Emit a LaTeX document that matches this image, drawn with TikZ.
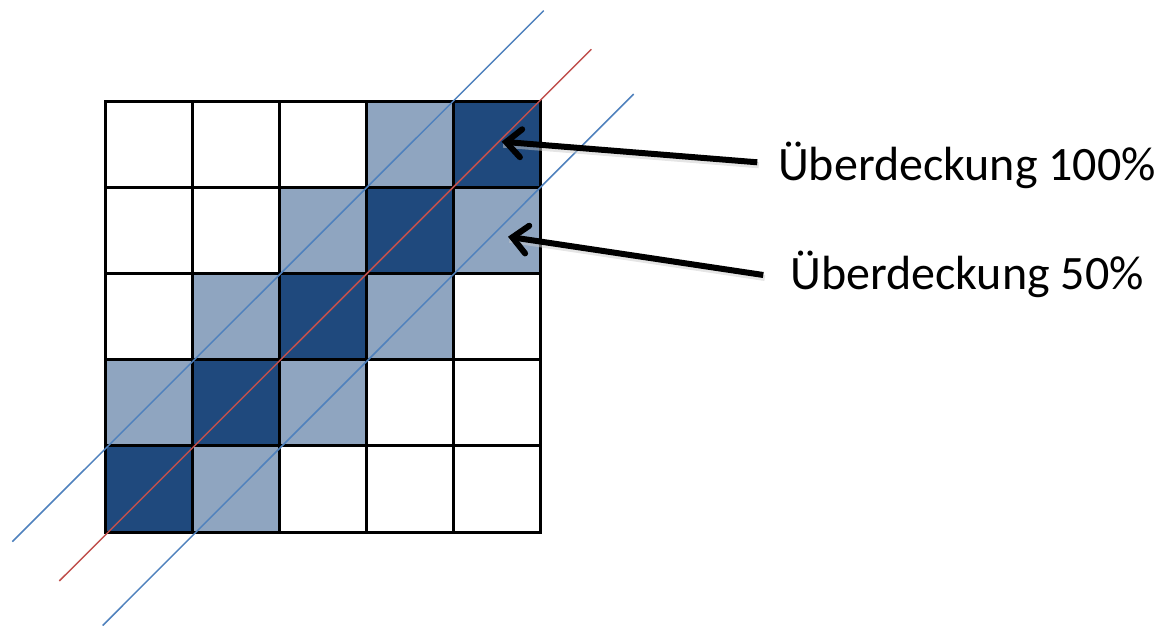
\documentclass[tikz,border=0pt]{standalone}
\usepackage{fontspec}
\setmainfont{Carlito}
\usetikzlibrary{arrows.meta}
\definecolor{darkcell}{RGB}{31,73,125}
\definecolor{lightcell}{RGB}{143,165,192}
\definecolor{blueline}{RGB}{79,129,189}
\definecolor{redline}{RGB}{192,80,77}
\tikzset{
  gridline/.style={line width=3pt, black},
  bline/.style={line width=1.5pt, blueline},
  rline/.style={line width=1.5pt, redline},
  pointer/.style={line width=6pt, black, -{Straight Barb[length=15pt,width=28pt,line cap=round]}},
  pshadow/.style={line width=6pt, black!20, opacity=0.5},
  label/.style={font=\fontsize{48}{52}\selectfont, anchor=base, inner sep=0pt}
}
\begin{document}
\begin{tikzpicture}[x=1pt,y=-1pt]
\useasboundingbox (0,0) rectangle (1159,626);
% cell fills (col index c, row index r from top)
\def\cx#1{\ifcase#1 105\or 192\or 279\or 366\or 453\or 540\fi}
\def\ry#1{\ifcase#1 101\or 187.2\or 273.4\or 359.6\or 445.8\or 532\fi}
\foreach \c/\r/\col in {4/0/darkcell,3/1/darkcell,2/2/darkcell,1/3/darkcell,0/4/darkcell,
  3/0/lightcell,2/1/lightcell,1/2/lightcell,0/3/lightcell,
  4/1/lightcell,3/2/lightcell,2/3/lightcell,1/4/lightcell}{
  \pgfmathtruncatemacro{\cn}{\c+1}
  \pgfmathtruncatemacro{\rn}{\r+1}
  \fill[\col] (\cx{\c},\ry{\r}) rectangle (\cx{\cn},\ry{\rn});
}
% grid
\foreach \i in {0,...,5}{
  \draw[gridline] (\cx{\i},101) -- (\cx{\i},532);
  \draw[gridline] (105,\ry{\i}) -- (540,\ry{\i});
}
\draw[gridline, line join=miter] (105,101) rectangle (540,532);
% diagonal lines
\coordinate (u1) at (12.3,541.7); \coordinate (u2) at (543.7,10.7);
\coordinate (r1) at (59.3,581);   \coordinate (r2) at (591.3,49.3);
\coordinate (l1) at (102.7,625.5); \coordinate (l2) at (633.7,94);
\draw[bline] (u1) -- (u2);
\draw[rline] (r1) -- (r2);
\draw[bline] (l1) -- (l2);
% labels
\node[label] (t1) at (967,180) {Überdeckung 100\%};
\node[label] (t2) at (967,289) {Überdeckung 50\%};
% arrows
\coordinate (a1) at (757.3,162.3); \coordinate (h1) at (501.7,141.7);
\coordinate (a2) at (763.3,275);   \coordinate (h2) at (508,236.7);
\draw[pshadow] ([shift={(1.5,3)}]a1) -- ([shift={(1.5,3)}]h1);
\draw[pshadow] ([shift={(1.5,3)}]a2) -- ([shift={(1.5,3)}]h2);
\draw[pointer] (a1) -- (h1);
\draw[pointer] (a2) -- (h2);
\end{tikzpicture}
\end{document}
